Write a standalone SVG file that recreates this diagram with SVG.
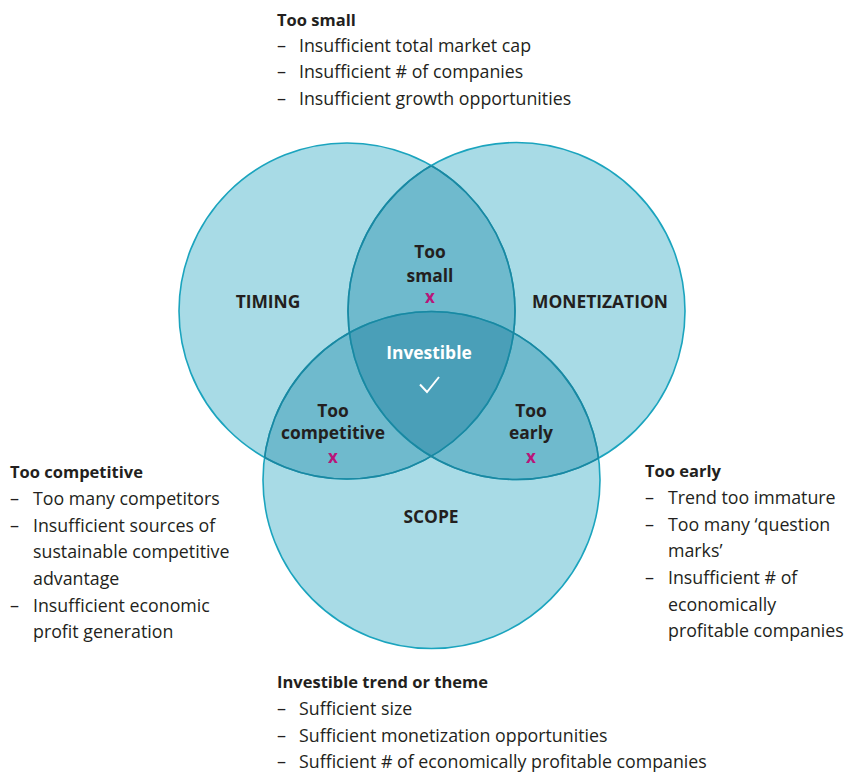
<svg xmlns="http://www.w3.org/2000/svg" width="845" height="773" viewBox="0 0 845 773">
<style>
  .t { font-family: "Open Sans", "Noto Sans", "Liberation Sans", sans-serif; font-size: 17.8px; fill: #231f20; }
  .b { font-weight: bold; font-size: 16.5px; }
  .d { font-size: 18px; }
  .lab { font-family: "Open Sans", "Noto Sans", "Liberation Sans", sans-serif; font-size: 17.4px; font-weight: bold; fill: #231f20; text-anchor: middle; }
  .x { font-family: "Open Sans", "Noto Sans", "Liberation Sans", sans-serif; font-size: 17px; font-weight: bold; fill: #b8157a; text-anchor: middle; }
  .c1 { fill: #a8dbe6; }
  .c2 { fill: #6fbacd; }
  .c3 { fill: #4a9fb8; }
  .ring { fill: none; stroke: #1ba4be; stroke-width: 1.6; }
  .ringIn { fill: none; stroke: #1b87a1; stroke-width: 1.6; }
</style>
<defs>
  <clipPath id="cpA"><circle cx="347" cy="311" r="168"/></clipPath>
  <clipPath id="cpB"><circle cx="516.5" cy="311" r="168.5"/></clipPath>
  <clipPath id="cpBC"><circle cx="516.5" cy="311" r="168.5"/><circle cx="431.5" cy="480" r="168.5"/></clipPath>
  <clipPath id="cpAC"><circle cx="347" cy="311" r="168"/><circle cx="431.5" cy="480" r="168.5"/></clipPath>
  <clipPath id="cpAB"><circle cx="347" cy="311" r="168"/><circle cx="516.5" cy="311" r="168.5"/></clipPath>
</defs>

<g id="venn">
  <g id="timing-circle">
    <circle class="c1" cx="347" cy="311" r="168"/>
  </g>
  <g id="monetization-circle">
    <circle class="c1" cx="516.5" cy="311" r="168.5"/>
  </g>
  <g id="scope-circle">
    <circle class="c1" cx="431.5" cy="480" r="168.5"/>
  </g>
  <g id="overlaps">
    <g clip-path="url(#cpA)"><circle class="c2" cx="516.5" cy="311" r="168.5"/></g>
    <g clip-path="url(#cpA)"><circle class="c2" cx="431.5" cy="480" r="168.5"/></g>
    <g clip-path="url(#cpB)"><circle class="c2" cx="431.5" cy="480" r="168.5"/></g>
    <g clip-path="url(#cpA)"><g clip-path="url(#cpB)"><circle class="c3" cx="431.5" cy="480" r="168.5"/></g></g>
  </g>
  <g id="outlines">
    <circle class="ring" cx="347" cy="311" r="168"/>
    <circle class="ring" cx="516.5" cy="311" r="168.5"/>
    <circle class="ring" cx="431.5" cy="480" r="168.5"/>
    <g clip-path="url(#cpBC)"><circle class="ringIn" cx="347" cy="311" r="168"/></g>
    <g clip-path="url(#cpAC)"><circle class="ringIn" cx="516.5" cy="311" r="168.5"/></g>
    <g clip-path="url(#cpAB)"><circle class="ringIn" cx="431.5" cy="480" r="168.5"/></g>
  </g>
</g>

<g id="label-timing"><text class="lab" x="268" y="308">TIMING</text></g>
<g id="label-monetization"><text class="lab" x="600" y="308">MONETIZATION</text></g>
<g id="label-scope"><text class="lab" x="431" y="523">SCOPE</text></g>

<g id="label-too-small">
  <text class="lab" x="430" y="258">Too</text>
  <text class="lab" x="430" y="282">small</text>
  <text class="x" x="430" y="303">x</text>
</g>
<g id="label-investible">
  <text class="lab" x="429" y="359" style="fill:#ffffff">Investible</text>
  <polyline points="420,384.5 427,392 439,377" fill="none" stroke="#ffffff" stroke-width="2"/>
</g>
<g id="label-too-competitive">
  <text class="lab" x="333" y="417">Too</text>
  <text class="lab" x="333" y="439">competitive</text>
  <text class="x" x="333" y="463">x</text>
</g>
<g id="label-too-early">
  <text class="lab" x="531" y="417">Too</text>
  <text class="lab" x="531" y="439">early</text>
  <text class="x" x="531" y="463">x</text>
</g>

<g id="note-too-small">
  <text class="t b" x="277" y="26">Too small</text>
  <text class="t d" x="277" y="52">–</text><text class="t" x="299" y="52">Insufficient total market cap</text>
  <text class="t d" x="277" y="78">–</text><text class="t" x="299" y="78">Insufficient # of companies</text>
  <text class="t d" x="277" y="105">–</text><text class="t" x="299" y="105">Insufficient growth opportunities</text>
</g>

<g id="note-too-competitive">
  <text class="t b" x="10" y="478">Too competitive</text>
  <text class="t d" x="10" y="505">–</text><text class="t" x="33" y="505">Too many competitors</text>
  <text class="t d" x="10" y="532">–</text><text class="t" x="33" y="532">Insufficient sources of</text>
  <text class="t" x="33" y="558">sustainable competitive</text>
  <text class="t" x="33" y="585">advantage</text>
  <text class="t d" x="10" y="612">–</text><text class="t" x="33" y="612">Insufficient economic</text>
  <text class="t" x="33" y="638">profit generation</text>
</g>

<g id="note-too-early">
  <text class="t b" x="645" y="477">Too early</text>
  <text class="t d" x="645" y="504">–</text><text class="t" x="668" y="504">Trend too immature</text>
  <text class="t d" x="645" y="531">–</text><text class="t" x="668" y="531">Too many ‘question</text>
  <text class="t" x="668" y="557">marks’</text>
  <text class="t d" x="645" y="584">–</text><text class="t" x="668" y="584">Insufficient # of</text>
  <text class="t" x="668" y="611">economically</text>
  <text class="t" x="668" y="637">profitable companies</text>
</g>

<g id="note-investible">
  <text class="t b" x="277" y="688">Investible trend or theme</text>
  <text class="t d" x="277" y="715">–</text><text class="t" x="299" y="715">Sufficient size</text>
  <text class="t d" x="277" y="742">–</text><text class="t" x="299" y="742">Sufficient monetization opportunities</text>
  <text class="t d" x="277" y="768">–</text><text class="t" x="299" y="768">Sufficient # of economically profitable companies</text>
</g>
</svg>
